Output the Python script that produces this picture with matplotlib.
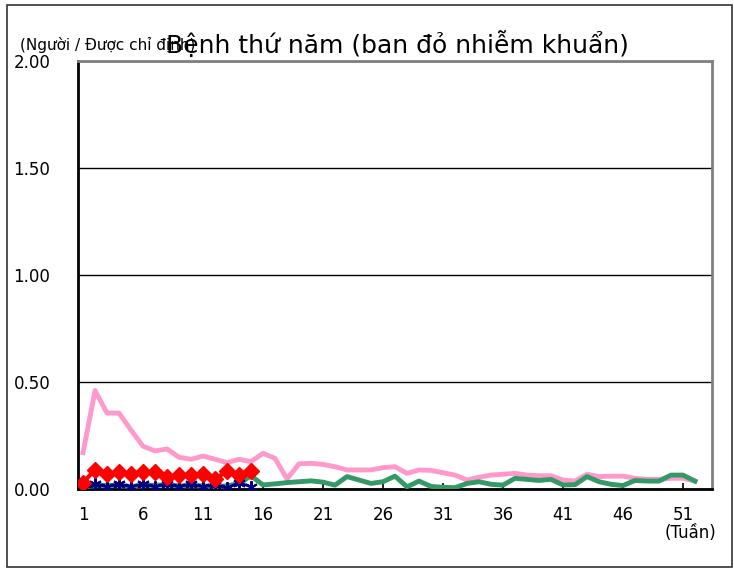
import numpy as np
import matplotlib
matplotlib.use("Agg")
import matplotlib.pyplot as plt
from matplotlib.patches import Rectangle

# weekly reports per sentinel site
weeks = np.arange(1, 53)
weeks_now = np.arange(1, 16)

pink_vals = [0.17, 0.46, 0.355, 0.355, 0.275, 0.20, 0.178, 0.187, 0.148, 0.139,
             0.154, 0.139, 0.123, 0.139, 0.128, 0.167, 0.143, 0.047, 0.118, 0.12,
             0.115, 0.104, 0.089, 0.089, 0.089, 0.10, 0.104, 0.073, 0.089, 0.087,
             0.076, 0.065, 0.042, 0.055, 0.065, 0.069, 0.073, 0.065, 0.062, 0.062,
             0.042, 0.037, 0.069, 0.058, 0.06, 0.06, 0.05, 0.045, 0.045, 0.05,
             0.05, 0.037]
green_vals = [0.01, 0.015, 0.018, 0.015, 0.012, 0.015, 0.018, 0.018, 0.015, 0.015,
              0.015, 0.01, 0.015, 0.025, 0.062, 0.019, 0.024, 0.03, 0.034, 0.038,
              0.032, 0.018, 0.058, 0.042, 0.026, 0.034, 0.06, 0.01, 0.037, 0.012,
              0.008, 0.006, 0.026, 0.034, 0.022, 0.018, 0.05, 0.045, 0.04, 0.045,
              0.019, 0.02, 0.058, 0.034, 0.022, 0.016, 0.04, 0.037, 0.037, 0.065,
              0.065, 0.037]
blue_vals = [0.0, 0.025, 0.01, 0.025, 0.01, 0.025, 0.01, 0.025, 0.01, 0.025,
             0.01, 0.02, 0.005, 0.03, 0.01]
red_vals = [0.03, 0.09, 0.07, 0.08, 0.07, 0.08, 0.08, 0.055, 0.065, 0.065,
            0.07, 0.045, 0.085, 0.065, 0.085]

xticks = [1, 6, 11, 16, 21, 26, 31, 36, 41, 46, 51]
yticks = [0, 0.5, 1.0, 1.5, 2.0]

fig = plt.figure(figsize=(7.34, 5.69), dpi=100)
fig.patches.append(Rectangle((7/734, 1-567/569), 725/734, 562/569, transform=fig.transFigure,
                             fill=False, edgecolor='#333333', linewidth=1.2))
ax = fig.add_axes([78/734, 1-489/569, 634/734, 428/569])

ax.plot(weeks, pink_vals, color='#FF99CC', lw=3.5, zorder=3)
ax.plot(weeks, green_vals, color='#339966', lw=3.5, zorder=4)
ax.plot(weeks_now, blue_vals, color='#000080', lw=2, marker=(6, 2, 0), ms=9, mew=1.5, zorder=5)
ax.plot(weeks_now, red_vals, color='#FF0000', lw=3, marker='D', ms=8, zorder=6)

ax.set_xlim(0.58, 53.42)
ax.set_ylim(0, 2.0)
ax.set_yticks(yticks)
ax.set_yticklabels(['%.2f' % v for v in yticks], fontsize=12)
ax.set_xticks(xticks)
ax.set_xticklabels([str(v) for v in xticks], fontsize=12)
ax.tick_params(axis='y', length=0, pad=20)
ax.tick_params(axis='x', direction='in', length=4, width=1.2, pad=12)
ax.yaxis.grid(True, color='black', lw=1)
ax.set_axisbelow(True)

ax.spines['left'].set_color('black')
ax.spines['bottom'].set_color('black')
ax.spines['top'].set_color('#808080')
ax.spines['right'].set_color('#808080')
for s in ax.spines.values():
    s.set_linewidth(2)

fig.text(397/734, 1-45/569, 'Bệnh thứ năm (ban đỏ nhiễm khuẩn)', fontsize=18,
         ha='center', va='center')
fig.text(20/734, 1-45/569, '(Người / Được chỉ định)', fontsize=11, ha='left', va='center')
fig.text(690/734, 1-533/569, '(Tuần)', fontsize=12, ha='center', va='center')

fig.savefig('out.png', dpi=100)
